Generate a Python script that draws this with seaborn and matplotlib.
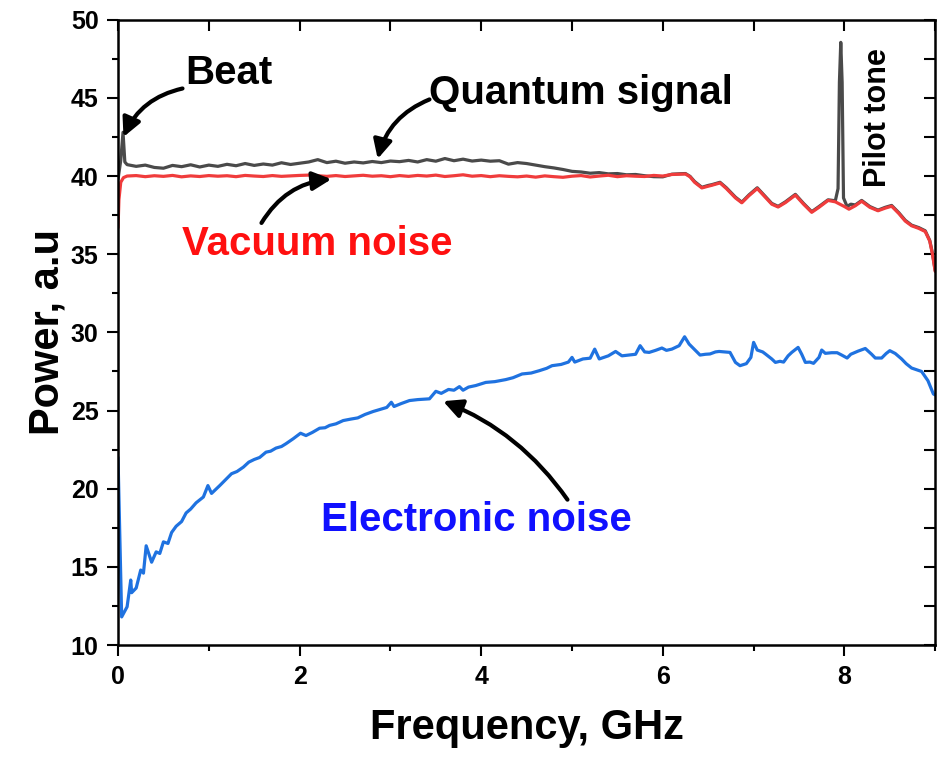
import matplotlib
matplotlib.use("Agg")
from matplotlib import pyplot as plt
from matplotlib import lines as mlines
from matplotlib.ticker import MultipleLocator
import seaborn as sns

# ---- data ----
# Quantum signal (grey)
quantum_x = [0.0, 0.03, 0.055, 0.075,
             0.1, 0.2, 0.3, 0.4, 0.5, 0.6, 0.7, 0.8, 0.9, 1.0,
             1.1, 1.2, 1.3, 1.4, 1.5, 1.6, 1.7, 1.8, 1.9, 2.0,
             2.1, 2.2, 2.3, 2.4, 2.5, 2.6, 2.7, 2.8, 2.9, 3.0,
             3.1, 3.2, 3.3, 3.4, 3.5, 3.6, 3.7, 3.8, 3.9, 4.0,
             4.1, 4.2, 4.3, 4.4, 4.5, 4.6, 4.7, 4.8, 4.9, 5.0,
             5.1, 5.2, 5.3, 5.4, 5.5, 5.6, 5.7, 5.8, 5.9, 6.0,
             6.1, 6.2, 6.25, 6.3, 6.35, 6.43, 6.5, 6.54, 6.63, 6.7,
             6.8, 6.87, 6.95, 7.04, 7.12, 7.2, 7.27, 7.35, 7.46, 7.55,
             7.64, 7.72, 7.82, 7.9, 7.93, 7.945, 7.96, 7.975, 7.99, 8.03,
             8.07, 8.12, 8.19, 8.28, 8.37, 8.45, 8.52, 8.6, 8.67, 8.74,
             8.82, 8.89, 8.94, 8.97, 9.0]
quantum_y = [39.8, 41.0, 42.8, 40.9,
             40.73, 40.62, 40.70, 40.55, 40.50, 40.68, 40.60, 40.72, 40.58, 40.70,
             40.62, 40.75, 40.66, 40.80, 40.68, 40.77, 40.70, 40.85, 40.74, 40.82,
             40.90, 41.05, 40.86, 40.95, 40.82, 40.90, 40.84, 40.93, 40.86, 40.96,
             40.92, 41.00, 40.90, 41.05, 40.95, 41.12, 40.98, 41.08, 40.96, 41.02,
             40.95, 40.98, 40.76, 40.86, 40.80, 40.70, 40.60, 40.52, 40.42, 40.30,
             40.26, 40.18, 40.22, 40.14, 40.16, 40.08, 40.10, 40.02, 39.96, 39.95,
             40.12, 40.15, 40.16, 39.98, 39.65, 39.28, 39.40, 39.45, 39.60, 39.25,
             38.65, 38.33, 38.80, 39.25, 38.75, 38.25, 38.06, 38.35, 38.83, 38.25,
             37.72, 38.05, 38.48, 38.42, 39.2, 46.0, 48.55, 46.0, 38.6, 38.05,
             38.2, 38.15, 38.44, 38.05, 37.82, 38.0, 38.12, 37.65, 37.17, 36.86,
             36.70, 36.50, 35.88, 35.05, 33.95]

# Vacuum noise (red)
vacuum_x = [0.0, 0.01, 0.03, 0.06,
            0.1, 0.2, 0.3, 0.4, 0.5, 0.6, 0.7, 0.8, 0.9, 1.0,
            1.1, 1.2, 1.3, 1.4, 1.5, 1.6, 1.7, 1.8, 1.9, 2.0,
            2.1, 2.2, 2.3, 2.4, 2.5, 2.6, 2.7, 2.8, 2.9, 3.0,
            3.1, 3.2, 3.3, 3.4, 3.5, 3.6, 3.7, 3.8, 3.9, 4.0,
            4.1, 4.2, 4.3, 4.4, 4.5, 4.6, 4.7, 4.8, 4.9, 5.0,
            5.1, 5.2, 5.3, 5.4, 5.5, 5.6, 5.7, 5.8, 5.9, 6.0,
            6.1, 6.2, 6.25, 6.3, 6.35, 6.43, 6.5, 6.54, 6.63, 6.7,
            6.8, 6.87, 6.95, 7.04, 7.12, 7.2, 7.27, 7.35, 7.46, 7.55,
            7.64, 7.72, 7.82, 7.9, 8.0, 8.05, 8.12, 8.19, 8.28, 8.37,
            8.45, 8.52, 8.6, 8.67, 8.74, 8.82, 8.89, 8.94, 8.97, 9.0]
vacuum_y = [36.7, 38.5, 39.6, 39.9,
            40.00, 40.03, 39.96, 40.02, 39.98, 40.04, 39.95, 40.01, 39.97, 40.03,
            39.99, 40.02, 39.96, 40.04, 40.00, 39.97, 40.03, 39.98, 40.01, 40.04,
            40.06, 40.02, 39.98, 40.03, 39.97, 40.01, 40.05, 39.99, 40.02, 39.96,
            40.03, 39.98, 40.04, 40.00, 40.06, 39.97, 40.02, 40.08, 39.99, 40.03,
            39.96, 40.02, 39.98, 39.95, 40.00, 39.93, 40.01, 39.96, 39.92, 39.99,
            40.03, 39.94, 40.00, 40.05, 39.96, 40.02, 39.99, 39.97, 40.04, 40.00,
            40.10, 40.12, 40.13, 39.95, 39.60, 39.24, 39.35, 39.41, 39.56, 39.20,
            38.60, 38.29, 38.75, 39.20, 38.70, 38.20, 38.02, 38.30, 38.78, 38.20,
            37.68, 38.00, 38.44, 38.35, 38.05, 37.88, 38.10, 38.39, 38.00, 37.78,
            37.95, 38.07, 37.60, 37.12, 36.82, 36.65, 36.45, 35.84, 35.00, 33.90]

# Electronic noise (blue)
electronic_x = [0.0, 0.04, 0.1, 0.14, 0.15, 0.2, 0.25, 0.28, 0.31, 0.37,
                0.42, 0.46, 0.5, 0.55, 0.59, 0.64, 0.7, 0.75, 0.8, 0.86,
                0.94, 0.99, 1.03, 1.12, 1.18, 1.25, 1.31, 1.38, 1.44, 1.5,
                1.56, 1.63, 1.68, 1.74, 1.8, 1.85, 1.93, 2.01, 2.07, 2.14,
                2.22, 2.28, 2.33, 2.4, 2.48, 2.56, 2.64, 2.72, 2.81, 2.9,
                2.96, 3.01, 3.04, 3.12, 3.21, 3.3, 3.43, 3.5, 3.56, 3.64,
                3.7, 3.76, 3.8, 3.86, 3.94, 4.05, 4.15, 4.27, 4.35, 4.45,
                4.55, 4.64, 4.72, 4.78, 4.88, 4.96, 5.0, 5.03, 5.12, 5.2,
                5.25, 5.3, 5.4, 5.48, 5.55, 5.62, 5.7, 5.75, 5.8, 5.85,
                5.92, 5.99, 6.04, 6.1, 6.18, 6.24, 6.29, 6.35, 6.41, 6.47,
                6.52, 6.58, 6.62, 6.68, 6.74, 6.8, 6.85, 6.92, 6.97, 7.0,
                7.04, 7.1, 7.13, 7.2, 7.24, 7.29, 7.33, 7.38, 7.42, 7.49,
                7.53, 7.57, 7.62, 7.66, 7.72, 7.75, 7.79, 7.86, 7.92, 7.97,
                8.03, 8.07, 8.15, 8.23, 8.3, 8.34, 8.41, 8.46, 8.5, 8.56,
                8.63, 8.68, 8.74, 8.8, 8.85, 8.92, 8.98, 9.0]
electronic_y = [22.0, 11.8, 12.45, 14.16, 13.35, 13.65, 14.8, 14.6, 16.35, 15.3,
                15.96, 15.86, 16.6, 16.5, 17.2, 17.6, 17.9, 18.45, 18.7, 19.1,
                19.47, 20.2, 19.7, 20.2, 20.55, 20.96, 21.1, 21.38, 21.7, 21.87,
                22.0, 22.34, 22.4, 22.6, 22.7, 22.88, 23.2, 23.55, 23.4, 23.6,
                23.87, 23.9, 24.05, 24.15, 24.36, 24.45, 24.53, 24.75, 24.94, 25.1,
                25.2, 25.53, 25.26, 25.45, 25.64, 25.7, 25.75, 26.23, 26.1, 26.35,
                26.3, 26.53, 26.3, 26.5, 26.6, 26.8, 26.85, 26.98, 27.1, 27.34,
                27.4, 27.55, 27.7, 27.87, 27.95, 28.1, 28.4, 28.1, 28.3, 28.35,
                28.93, 28.3, 28.5, 28.78, 28.5, 28.55, 28.6, 29.15, 28.75, 28.72,
                28.85, 29.0, 28.85, 28.93, 29.15, 29.72, 29.25, 28.9, 28.55, 28.6,
                28.62, 28.75, 28.78, 28.75, 28.72, 28.08, 27.87, 28.0, 28.4, 29.36,
                28.87, 28.75, 28.62, 28.3, 28.08, 28.15, 28.1, 28.5, 28.72, 29.04,
                28.6, 28.08, 28.1, 28.02, 28.4, 28.87, 28.66, 28.7, 28.7, 28.55,
                28.36, 28.6, 28.8, 28.97, 28.6, 28.36, 28.36, 28.65, 28.83, 28.65,
                28.3, 28.0, 27.72, 27.6, 27.5, 26.91, 26.06, 26.0]

x_major = [0, 2, 4, 6, 8]
y_major = [10, 15, 20, 25, 30, 35, 40, 45, 50]

sns.set_style("ticks")
plt.rcParams['font.family'] = ['Liberation Sans', 'DejaVu Sans']
plt.rcParams['font.weight'] = 'bold'
plt.rcParams['text.color'] = 'black'
plt.rcParams['axes.labelcolor'] = 'black'
plt.rcParams['xtick.color'] = 'black'
plt.rcParams['ytick.color'] = 'black'
plt.rcParams['axes.edgecolor'] = 'black'

fig = plt.figure(figsize=(9.48, 7.58), dpi=100)
ax = fig.add_axes([0.1245, 0.149, 0.862, 0.825])

sns.lineplot(x=quantum_x, y=quantum_y, color="#4a4a4a", lw=2.3, ax=ax)
sns.lineplot(x=vacuum_x, y=vacuum_y, color="#f03c3c", lw=2.3, ax=ax)
sns.lineplot(x=electronic_x, y=electronic_y, color="#1f72e0", lw=2.3, ax=ax)

ax.set_xlim(0, 9)
ax.set_ylim(10, 50)
ax.set_xticks(x_major)
ax.set_yticks(y_major)
ax.xaxis.set_minor_locator(MultipleLocator(1))
ax.yaxis.set_minor_locator(MultipleLocator(2.5))
ax.tick_params(which='major', direction='out', length=8, width=1.5, labelsize=18, pad=6,
               top=True, right=True, labeltop=False, labelright=False)
ax.tick_params(which='minor', direction='out', length=4, width=1.5, top=True, right=True)
for lab in ax.get_xticklabels() + ax.get_yticklabels():
    lab.set_fontweight('bold')
for side in ['left', 'bottom', 'top', 'right']:
    ax.spines[side].set_visible(True)
    ax.spines[side].set_linewidth(1.8)
    ax.spines[side].set_color('black')
    ax.spines[side].set_zorder(5)

# top and right ticks point inward, all the same length
for t in ax.xaxis.get_major_ticks() + ax.xaxis.get_minor_ticks():
    t.tick2line.set_marker(mlines.TICKDOWN)
    t.tick2line.set_markersize(8)
for t in ax.yaxis.get_major_ticks() + ax.yaxis.get_minor_ticks():
    t.tick2line.set_marker(mlines.TICKLEFT)
    t.tick2line.set_markersize(8)

ax.set_xlabel("Frequency, GHz", fontsize=30, fontweight='bold', labelpad=14)
ax.set_ylabel("Power, a.u", fontsize=30, fontweight='bold', labelpad=2)

ax.text(1.22, 46.56, "Beat", fontsize=29, fontweight='bold', ha='center', va='center')
ax.text(5.10, 45.28, "Quantum signal", fontsize=29, fontweight='bold', ha='center', va='center')
ax.text(2.19, 35.65, "Vacuum noise", fontsize=29, fontweight='bold', color='#ff1010', ha='center', va='center')
ax.text(3.95, 17.98, "Electronic noise", fontsize=29, fontweight='bold', color='#1010ff', ha='center', va='center')
ax.text(8.37, 43.75, "Pilot tone", fontsize=22, fontweight='bold', rotation=90, ha='center', va='center')

arrow = dict(arrowstyle='-|>', color='black', lw=3, mutation_scale=28, shrinkA=0, shrinkB=0)
ax.annotate("", xy=(0.06, 42.5), xytext=(0.71, 45.6),
            arrowprops=dict(arrow, connectionstyle="arc3,rad=0.25"))
ax.annotate("", xy=(2.86, 41.1), xytext=(3.43, 44.9),
            arrowprops=dict(arrow, connectionstyle="arc3,rad=0.25"))
ax.annotate("", xy=(2.35, 39.8), xytext=(1.58, 37.0),
            arrowprops=dict(arrow, connectionstyle="arc3,rad=-0.25"))
ax.annotate("", xy=(3.58, 25.6), xytext=(4.95, 19.3),
            arrowprops=dict(arrow, connectionstyle="arc3,rad=0.15"))

fig.savefig("out.png", dpi=100)
